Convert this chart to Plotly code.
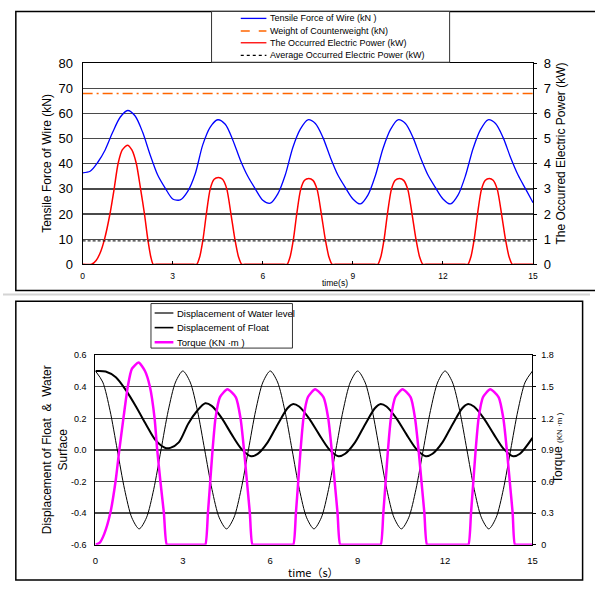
import plotly.graph_objects as go

# ---------------- data ----------------
# Top panel
t_force = [0.0, 0.25, 0.5, 0.75, 1.0, 1.25, 1.5, 1.75, 2.0, 2.25, 2.5, 2.75, 3.0, 3.25, 3.5, 3.75,
           4.0, 4.25, 4.5, 4.75, 5.0, 5.25, 5.5, 5.75, 6.0, 6.25, 6.5, 6.75, 7.0, 7.25, 7.5, 7.75,
           8.0, 8.25, 8.5, 8.75, 9.0, 9.25, 9.5, 9.75, 10.0, 10.25, 10.5, 10.75, 11.0, 11.25, 11.5,
           11.75, 12.0, 12.25, 12.5, 12.75, 13.0, 13.25, 13.5, 13.75, 14.0, 14.25, 14.5, 14.75, 15.0]
tensile_kN = [36.4, 37.0, 40.5, 45.5, 52.5, 58.5, 61.2, 59.0, 52.5, 43.5, 35.5, 30.3, 26.0, 25.6, 29.0, 36.0,
              47.5, 54.6, 57.5, 55.7, 49.5, 41.5, 35.0, 30.0, 25.5, 24.3, 28.0, 35.6, 46.5, 53.8, 57.5, 56.0,
              50.5, 42.5, 35.5, 30.5, 26.0, 24.0, 27.5, 35.3, 46.0, 53.6, 57.5, 56.0, 50.5, 42.5, 35.5,
              30.5, 26.0, 24.0, 27.5, 35.3, 46.0, 53.6, 57.5, 56.0, 50.5, 42.5, 35.5, 30.0, 24.5]

t_power = [0.0, 0.3, 0.45, 0.6, 0.73, 0.91, 1.05, 1.18, 1.32, 1.49, 1.64, 1.79, 1.93, 2.06, 2.17, 2.27, 2.35, 2.45,
           3.7, 3.8, 3.9, 4.01, 4.12, 4.25, 4.38, 4.52, 4.66, 4.8, 4.94, 5.07, 5.19, 5.3, 5.4,
           6.71, 6.81, 6.91, 7.02, 7.13, 7.26, 7.39, 7.53, 7.67, 7.81, 7.95, 8.08, 8.2, 8.31, 8.41,
           9.73, 9.83, 9.93, 10.04, 10.15, 10.28, 10.41, 10.55, 10.69, 10.83, 10.97, 11.1, 11.22, 11.33, 11.43,
           12.73, 12.83, 12.93, 13.04, 13.15, 13.28, 13.41, 13.54, 13.67, 13.81, 13.95, 14.08, 14.2, 14.31, 14.41, 15.0]
power_kW = [0.0, 0.0, 0.15, 0.5, 1.0, 2.0, 3.0, 4.0, 4.55, 4.74, 4.55, 4.0, 3.0, 2.0, 1.0, 0.3, 0.0, 0.0,
            0.0, 0.0, 0.3, 1.0, 2.0, 3.0, 3.38, 3.45, 3.38, 3.0, 2.0, 1.0, 0.3, 0.0, 0.0,
            0.0, 0.0, 0.3, 1.0, 2.0, 2.97, 3.34, 3.41, 3.34, 2.97, 2.0, 1.0, 0.3, 0.0, 0.0,
            0.0, 0.0, 0.3, 1.0, 2.0, 2.97, 3.34, 3.41, 3.34, 2.97, 2.0, 1.0, 0.3, 0.0, 0.0,
            0.0, 0.0, 0.3, 1.0, 2.0, 2.97, 3.34, 3.41, 3.34, 2.97, 2.0, 1.0, 0.3, 0.0, 0.0, 0.0]

t_const = [0.0, 15.0]
counterweight_kN = [68.0, 68.0]
avg_power_kW = [0.93, 0.93]

force_ticks = [0, 10, 20, 30, 40, 50, 60, 70, 80]
power_ticks = [0, 1, 2, 3, 4, 5, 6, 7, 8]
time_ticks = [0, 3, 6, 9, 12, 15]

# Bottom panel
t_water = t_force
water_m = [0.5, 0.43, 0.25, 0.0, -0.25, -0.43, -0.5, -0.43, -0.25, 0.0, 0.25, 0.43,
           0.5, 0.43, 0.25, 0.0, -0.25, -0.43, -0.5, -0.43, -0.25, 0.0, 0.25, 0.43,
           0.5, 0.43, 0.25, 0.0, -0.25, -0.43, -0.5, -0.43, -0.25, 0.0, 0.25, 0.43,
           0.5, 0.43, 0.25, 0.0, -0.25, -0.43, -0.5, -0.43, -0.25, 0.0, 0.25, 0.43,
           0.5, 0.43, 0.25, 0.0, -0.25, -0.43, -0.5, -0.43, -0.25, 0.0, 0.25, 0.43, 0.5]

t_float = [0.0, 0.35, 0.7, 1.05, 1.4, 1.75, 2.07, 2.4, 2.57, 2.86, 3.19, 3.48, 3.77,
           3.99, 4.33, 4.67, 5.01, 5.34, 5.57, 5.91, 6.25, 6.59, 6.77,
           6.99, 7.33, 7.67, 8.01, 8.34, 8.57, 8.91, 9.25, 9.59, 9.77,
           9.99, 10.33, 10.67, 11.01, 11.34, 11.57, 11.91, 12.25, 12.59, 12.77,
           12.99, 13.33, 13.67, 14.01, 14.34, 14.57, 15.0]
float_m = [0.5, 0.497, 0.46, 0.377, 0.272, 0.157, 0.06, 0.012, 0.013, 0.048, 0.168, 0.245, 0.295,
           0.279, 0.203, 0.10, 0.007, -0.04, -0.025, 0.048, 0.16, 0.264, 0.29,
           0.275, 0.20, 0.10, 0.007, -0.04, -0.024, 0.048, 0.16, 0.264, 0.29,
           0.275, 0.20, 0.10, 0.007, -0.04, -0.024, 0.048, 0.16, 0.264, 0.29,
           0.275, 0.20, 0.10, 0.007, -0.04, -0.024, 0.076]

t_torque = [0.0, 0.15, 0.3, 0.51, 0.69, 0.82, 0.96, 1.11, 1.25, 1.48, 1.7, 1.87, 2.03, 2.12, 2.23, 2.35, 2.45, 2.55,
            3.67, 3.77, 3.86, 3.94, 4.02, 4.12, 4.27, 4.53, 4.82, 4.98, 5.1, 5.2, 5.3, 5.39, 5.49,
            6.69, 6.79, 6.88, 6.96, 7.04, 7.14, 7.29, 7.54, 7.83, 7.99, 8.11, 8.21, 8.31, 8.4, 8.5,
            9.69, 9.79, 9.88, 9.96, 10.04, 10.14, 10.29, 10.54, 10.82, 10.97, 11.09, 11.19, 11.29, 11.38, 11.48,
            12.7, 12.8, 12.89, 12.97, 13.05, 13.15, 13.3, 13.55, 13.84, 14.0, 14.12, 14.22, 14.32, 14.4, 14.5, 15.0]
torque_kNm = [0.0, 0.02, 0.1, 0.3, 0.6, 0.9, 1.2, 1.5, 1.67, 1.73, 1.65, 1.5, 1.2, 0.9, 0.6, 0.3, 0.0, 0.0,
              0.0, 0.0, 0.3, 0.6, 0.9, 1.2, 1.4, 1.476, 1.4, 1.2, 0.9, 0.6, 0.3, 0.0, 0.0,
              0.0, 0.0, 0.3, 0.6, 0.9, 1.2, 1.4, 1.476, 1.4, 1.2, 0.9, 0.6, 0.3, 0.0, 0.0,
              0.0, 0.0, 0.3, 0.6, 0.9, 1.2, 1.4, 1.476, 1.4, 1.2, 0.9, 0.6, 0.3, 0.0, 0.0,
              0.0, 0.0, 0.3, 0.6, 0.9, 1.2, 1.4, 1.476, 1.4, 1.2, 0.9, 0.6, 0.3, 0.0, 0.0, 0.0]

disp_ticks = [-0.6, -0.4, -0.2, 0.0, 0.2, 0.4, 0.6]
disp_labels = ["-0.6", "-0.4", "-0.2", "0.0", "0.2", "0.4", "0.6"]
torque_ticks = [0, 0.3, 0.6, 0.9, 1.2, 1.5, 1.8]
torque_labels = ["0", "0.3", "0.6", "0.9", "1.2", "1.5", "1.8"]

top_legend = ["Tensile Force of Wire (kN )", "Weight of Counterweight (kN)",
              "The Occurred Electric Power (kW)", "Average Occurred Electric Power (kW)"]
bottom_legend = ["Displacement of Water level", "Displacement of Float", "Torque (KN ·m )"]

# ---------------- figure ----------------
W, H = 595, 589
def px(x):
    return x / W
def py(y):
    return 1 - y / H

FONT = "Liberation Sans, Arial, sans-serif"

BLUE, ORANGE, RED, MAGENTA = "#0000ff", "#ff6600", "#ff0000", "#ff00ff"
GRID = "#4a4a4a"

fig = go.Figure()
fig.add_trace(go.Scatter(x=t_force, y=tensile_kN, mode="lines", line=dict(color=BLUE, width=1.3, shape="spline", smoothing=0.8),
                         xaxis="x", yaxis="y"))
fig.add_trace(go.Scatter(x=t_const, y=counterweight_kN, mode="lines", line=dict(color=ORANGE, width=1.5, dash="10px,4px,2px,4px"),
                         xaxis="x", yaxis="y"))
fig.add_trace(go.Scatter(x=t_power, y=power_kW, mode="lines", line=dict(color=RED, width=1.5, shape="spline", smoothing=0.7),
                         xaxis="x", yaxis="y2"))
fig.add_trace(go.Scatter(x=t_const, y=avg_power_kW, mode="lines", line=dict(color="black", width=1, dash="3px,2px"),
                         xaxis="x", yaxis="y2"))

fig.add_trace(go.Scatter(x=t_water, y=water_m, mode="lines", line=dict(color="black", width=1, shape="spline", smoothing=0.8),
                         xaxis="x2", yaxis="y3"))
fig.add_trace(go.Scatter(x=t_float, y=float_m, mode="lines", line=dict(color="black", width=2, shape="spline", smoothing=0.8),
                         xaxis="x2", yaxis="y3"))
fig.add_trace(go.Scatter(x=t_torque, y=torque_kNm, mode="lines", line=dict(color=MAGENTA, width=2.5, shape="spline", smoothing=0.6),
                         xaxis="x2", yaxis="y4"))

top_x = [px(80.7), px(537.3)]
top_y = [py(264), py(57.7)]
bot_x = [px(93.7), px(536.7)]
bot_y = [py(551.7), py(357.3)]

fig.update_layout(
    width=W, height=H, autosize=False, margin=dict(l=0, r=0, t=0, b=0),
    paper_bgcolor="white", plot_bgcolor="white", showlegend=False,
    font=dict(family=FONT, color="black"),
    xaxis=dict(domain=top_x, anchor="y", range=[0, 15], tickvals=time_ticks, ticks="inside", ticklen=3,
               tickcolor="black", showline=True, linecolor="black", linewidth=1, mirror=True, showgrid=False,
               zeroline=False, tickfont=dict(size=8.5, family=FONT), ticklabelstandoff=4),
    yaxis=dict(domain=top_y, anchor="x", range=[0, 80], tickvals=force_ticks, showgrid=True, gridcolor=GRID,
               gridwidth=1.3, showline=True, linecolor="black", linewidth=1, zeroline=False,
               tickfont=dict(size=13, family=FONT), ticklabelstandoff=6),
    yaxis2=dict(overlaying="y", side="right", anchor="x", range=[0, 8], tickvals=power_ticks, showgrid=False,
                ticks="outside", ticklen=3, tickcolor="black", showline=True, linecolor="black", linewidth=1,
                zeroline=False, tickfont=dict(size=13, family=FONT), ticklabelstandoff=4),
    xaxis2=dict(domain=bot_x, anchor="y3", range=[0, 15], tickvals=time_ticks, ticks="", showline=True,
                linecolor="black", linewidth=1, mirror=True, showgrid=False, zeroline=False,
                tickfont=dict(size=9.5, family=FONT), ticklabelstandoff=7),
    yaxis3=dict(domain=bot_y, anchor="x2", range=[-0.6, 0.6], tickvals=disp_ticks, ticktext=disp_labels,
                showgrid=True, gridcolor=GRID, gridwidth=1.3, showline=True, linecolor="black", linewidth=1,
                zeroline=False, tickfont=dict(size=9, family=FONT), ticklabelstandoff=6),
    yaxis4=dict(overlaying="y3", side="right", anchor="x2", range=[0, 1.8], tickvals=torque_ticks,
                ticktext=torque_labels, showgrid=False, ticks="outside", ticklen=3, tickcolor="black",
                showline=True, linecolor="black", linewidth=1, zeroline=False,
                tickfont=dict(size=9, family=FONT), ticklabelstandoff=3),
)

shapes = []
annotations = []
# panel frames
shapes.append(dict(type="rect", xref="paper", yref="paper", x0=px(13), x1=px(605), y0=py(291), y1=py(4.5),
                   line=dict(color="black", width=1.5)))
shapes.append(dict(type="line", xref="paper", yref="paper", x0=0, x1=1, y0=py(295), y1=py(295),
                   line=dict(color="#d4d4d4", width=2)))
shapes.append(dict(type="rect", xref="paper", yref="paper", x0=px(13), x1=px(587.5), y0=py(588), y1=py(302),
                   line=dict(color="black", width=1.5)))

# top legend box
shapes.append(dict(type="rect", xref="paper", yref="paper", x0=px(211.4), x1=px(452.7), y0=py(56.7), y1=py(4.5),
                   line=dict(color="#333333", width=1), fillcolor="white", layer="above"))
top_styles = [dict(color=BLUE, width=1.3), dict(color=ORANGE, width=1.5, dash="dash"),
              dict(color=RED, width=1.3), dict(color="black", width=1.3, dash="dot")]
top_rows = [11.7, 24.7, 36.7, 49.7]
for name, st, yy in zip(top_legend, top_styles, top_rows):
    shapes.append(dict(type="line", xref="paper", yref="paper", x0=px(241), x1=px(267), y0=py(yy), y1=py(yy),
                       line=st, layer="above"))
    annotations.append(dict(xref="paper", yref="paper", x=px(268.5), y=py(yy), text=name, showarrow=False,
                            xanchor="left", yanchor="middle", font=dict(size=9, family=FONT)))

# bottom legend box
shapes.append(dict(type="rect", xref="paper", yref="paper", x0=px(150), x1=px(293.4), y0=py(350), y1=py(304.3),
                   line=dict(color="#333333", width=1), fillcolor="white", layer="above"))
bot_styles = [dict(color="black", width=1.2), dict(color="black", width=1.6), dict(color=MAGENTA, width=2.5)]
bot_rows = [314, 329, 344]
for name, st, yy in zip(bottom_legend, bot_styles, bot_rows):
    shapes.append(dict(type="line", xref="paper", yref="paper", x0=px(153.7), x1=px(172.7), y0=py(yy), y1=py(yy),
                       line=st, layer="above"))
    annotations.append(dict(xref="paper", yref="paper", x=px(174.3), y=py(yy), text=name, showarrow=False,
                            xanchor="left", yanchor="middle", font=dict(size=9.5, family=FONT)))

# axis titles
def title(x, y, text, size, angle=-90, family=FONT):
    annotations.append(dict(xref="paper", yref="paper", x=px(x), y=py(y), text=text, textangle=angle,
                            xanchor="center", yanchor="middle", showarrow=False,
                            font=dict(size=size, family=family)))

title(45, 160.5, "Tensile Force of Wire (kN)", 12)
title(566, 150, "The Occurred Electric Power (kW)", 12)
title(337, 283.5, "time(s)", 8.5, angle=0)
title(53, 454.5, "Displacement of Float\u00a0\u00a0&\u00a0\u00a0Water<br>Surface", 12)
title(563, 452, "Torque <span style='font-size:8px'>(KN ·m )</span>", 12)
title(315, 579.5, "time（s）", 11, angle=0, family="Noto Sans CJK JP, sans-serif")

fig.update_layout(shapes=shapes, annotations=annotations)
fig.write_html("out.html", config={"displayModeBar": False, "staticPlot": True},
               post_script="document.body.style.margin='0px';")
